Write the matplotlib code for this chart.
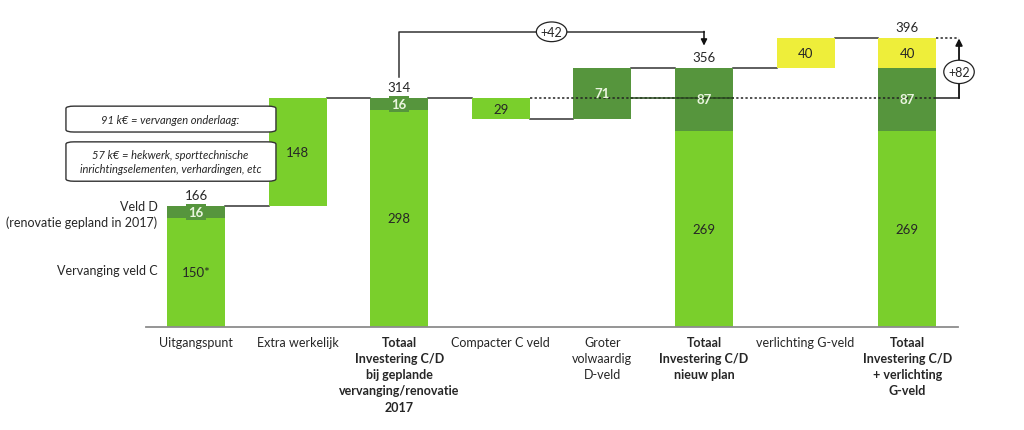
import matplotlib.pyplot as plt
from matplotlib.patches import FancyBboxPatch, Ellipse

plt.rcParams['font.family'] = ['Lato', 'DejaVu Sans']

categories = ['Uitgangspunt', 'Extra werkelijk',
              'Totaal\nInvestering C/D\nbij geplande\nvervanging/renovatie\n2017',
              'Compacter C veld', 'Groter\nvolwaardig\nD-veld',
              'Totaal\nInvestering C/D\nnieuw plan', 'verlichting G-veld',
              'Totaal\nInvestering C/D\n+ verlichting\nG-veld']
bold_cat = [False, False, True, False, False, True, False, True]

# segment values per bar (k€)
light = [150, 148, 298, 29, 0, 269, 0, 269]
dark = [16, 0, 16, 0, 71, 87, 0, 87]
yellow = [0, 0, 0, 0, 0, 0, 40, 40]
# 1 = step up, -1 = step down, 0 = total bar from zero
sign = [0, 1, 0, -1, 1, 0, 1, 0]
light_labels = ['150*', '148', '298', '29', '', '269', '', '269']
total_bars = [0, 2, 5, 7]

LIGHT = '#7acf2c'
DARK = '#56953d'
YELLOW = '#eeee3a'
TXT = '#262626'

fig = plt.figure(figsize=(10.24, 4.31), dpi=100)
ax = fig.add_axes([60 / 1024, 103 / 431, 940 / 1024, 328 / 431])
ax.set_xlim((60 - 196) / 101.6, (1000 - 196) / 101.6)
ax.set_ylim(0, 450)
ax.axis('off')

hw = 0.285
level = 0
levels = []
bottoms = []
for i in range(len(categories)):
    h = light[i] + dark[i] + yellow[i]
    if sign[i] == 0:
        b = 0
        level = h
    elif sign[i] > 0:
        b = level
        level += h
    else:
        level -= h
        b = level
    bottoms.append(b)
    levels.append(level)

    y = b
    for val, col, lab, tc, fw in [(light[i], LIGHT, light_labels[i], TXT, 'normal'),
                                  (dark[i], DARK, str(dark[i]), '#eaf5df', 'bold'),
                                  (yellow[i], YELLOW, str(yellow[i]), TXT, 'normal')]:
        if val == 0:
            continue
        ax.bar(i, val, bottom=y, width=2 * hw, color=col, zorder=2)
        kw = {}
        if col == DARK and val < 30:
            kw['bbox'] = dict(fc=DARK, ec='none', pad=1.5)
        ax.text(i, y + val / 2, lab, ha='center', va='center', fontsize=9.5,
                color=tc, fontweight=fw, zorder=5, **kw)
        y += val

# connectors
for i in range(len(categories) - 1):
    ax.plot([i + hw, i + 1 - hw], [levels[i], levels[i]], color='#333333', lw=1.1, zorder=1)

# totals above bars
for i in total_bars:
    ax.text(i, levels[i] + 15, str(levels[i]), ha='center', va='center', fontsize=9.5, color=TXT)

# reference line at the 2017 total
ref = levels[2]
ax.plot([3 + hw, 7 + hw], [ref, ref], color='#222222', lw=1.1, ls=(0, (1.5, 1.5)), zorder=3)
ax.plot([4 + hw, 5 + hw], [ref, ref], color='#2a4a20', lw=1.1, zorder=3)
ax.plot([7 + hw, 7.51], [ref, ref], color='#222222', lw=1.1, zorder=3)
ax.plot([7 + hw, 7.51], [levels[7], levels[7]], color='#222222', lw=1.1, ls=(0, (1.5, 1.5)), zorder=3)


def ellipse_label(x, y, txt, w, h):
    ax.add_patch(Ellipse((x, y), w, h, fc='white', ec='#222222', lw=0.9, zorder=6, clip_on=False))
    ax.text(x, y, txt, ha='center', va='center', fontsize=9, color=TXT, zorder=7)


# +42 bracket
ax.plot([2, 2, 5], [343, 405, 405], color='#333333', lw=1.1)
ax.annotate('', xy=(5, 386), xytext=(5, 405.5),
            arrowprops=dict(arrowstyle='-|>', color='#111111', lw=1.1, mutation_scale=9,
                            shrinkA=0, shrinkB=0))
ellipse_label(3.5, 405, '+%d' % (levels[5] - levels[2]), 0.3, 27)

# +82 bracket
ax.annotate('', xy=(7.51, levels[7]), xytext=(7.51, ref),
            arrowprops=dict(arrowstyle='-|>', color='#111111', lw=1.3, mutation_scale=10,
                            shrinkA=0, shrinkB=0), annotation_clip=False)
ellipse_label(7.51, 350, '+%d' % (levels[7] - ref), 0.3, 32)

# baseline
ax.plot([-0.49, 7.5], [0, 0], color='#8c8c8c', lw=1.3, zorder=3, clip_on=False)

# category labels
for i, c in enumerate(categories):
    ax.text(i, -12, c, ha='center', va='top', fontsize=9, color=TXT, linespacing=1.42,
            fontweight='bold' if bold_cat[i] else 'normal', clip_on=False)

# left side labels
ax.text(-0.38, 155, 'Veld D\n(renovatie gepland in 2017)', ha='right', va='center', fontsize=9,
        color=TXT, multialignment='right', linespacing=1.4)
ax.text(-0.38, 78, 'Vervanging veld C', ha='right', va='center', fontsize=9, color=TXT)

# note boxes
for y0, y1, txt in [(267.5, 303, '91 k€ = vervangen onderlaag:'),
                    (200, 254, '57 k€ = hekwerk, sporttechnische\ninrichtingselementen, verhardingen, etc')]:
    box = FancyBboxPatch((-1.28, y0), 2.067, y1 - y0,
                         boxstyle='round,pad=0,rounding_size=0.08',
                         mutation_aspect=40, fc='white', ec='#333333', lw=1.0, zorder=6)
    ax.add_patch(box)
    ax.text(-0.25, (y0 + y1) / 2, txt, ha='center', va='center', fontsize=8, style='italic',
            color=TXT, zorder=7, linespacing=1.35)

fig.savefig('out.png', dpi=100)
